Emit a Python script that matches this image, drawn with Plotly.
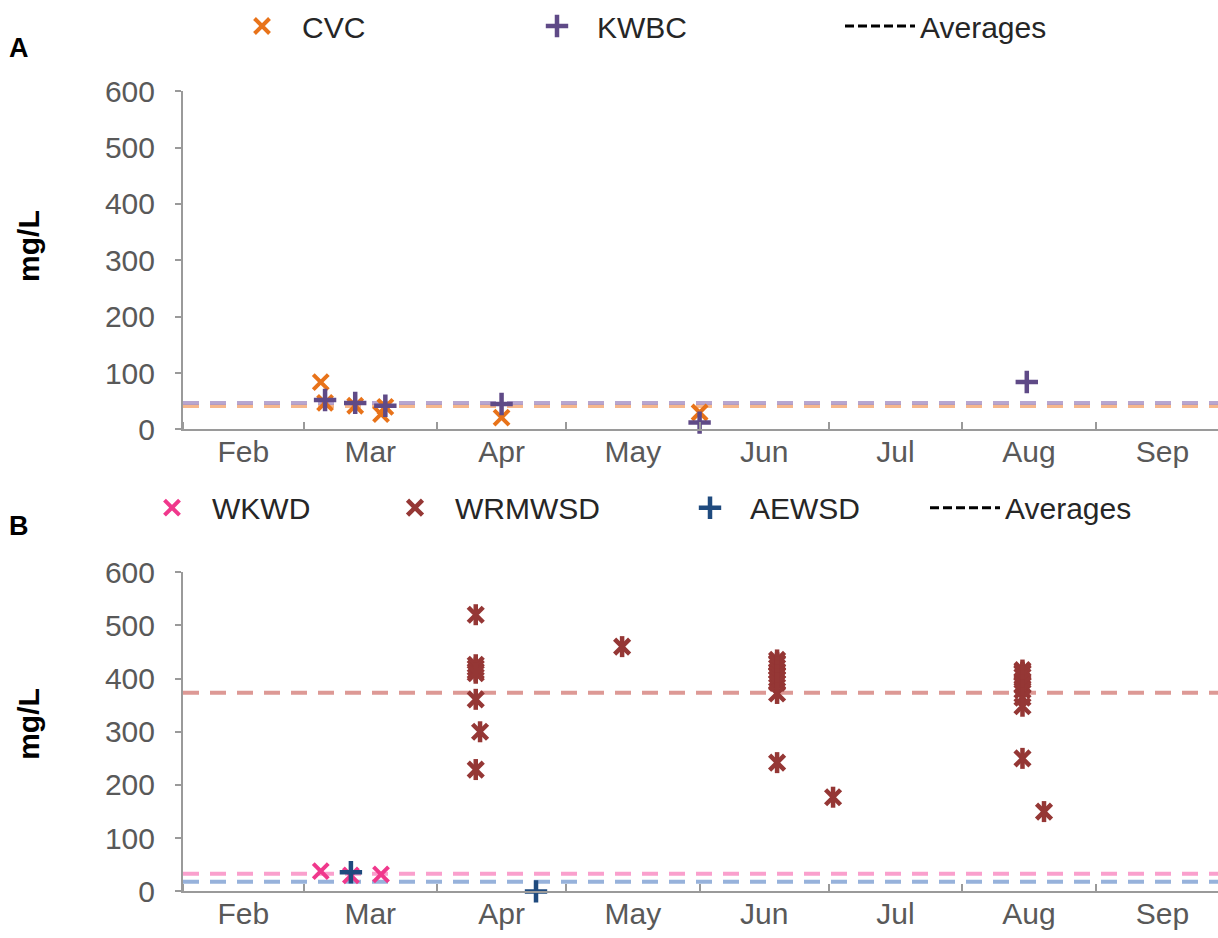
import plotly.graph_objects as go

# ---- Panel A: CVC and KWBC samples (mg/L) ----
cvc_dates = ["2015-03-05", "2015-03-06", "2015-03-13", "2015-03-19", "2015-03-20",
             "2015-04-16", "2015-06-01"]
cvc_vals = [84, 47, 42, 27, 40, 21, 30]

kwbc_dates = ["2015-03-06", "2015-03-13", "2015-03-20", "2015-04-16", "2015-06-01",
              "2015-08-16"]
kwbc_vals = [52, 47, 42, 45, 12, 84]

# ---- Panel B: WKWD, WRMWSD and AEWSD samples (mg/L) ----
wkwd_dates = ["2015-03-05", "2015-03-12", "2015-03-19"]
wkwd_vals = [38, 30, 32]

wrm_dates = (["2015-04-10"] * 7 + ["2015-04-11"] + ["2015-05-14"]
             + ["2015-06-19"] * 10 + ["2015-07-02"]
             + ["2015-08-15"] * 10 + ["2015-08-20"])
wrm_vals = ([520, 426, 420, 414, 410, 361, 229] + [300] + [460]
            + [435, 430, 428, 421, 414, 407, 400, 392, 372, 242] + [177]
            + [416, 412, 410, 404, 396, 388, 378, 364, 348, 250] + [150])

aewsd_dates = ["2015-03-12", "2015-04-24"]
aewsd_vals = [36, 0]

x_start, x_end = "2015-02-01", "2015-09-29 10:00"
y_ticks = [0, 100, 200, 300, 400, 500, 600]

FONT = "Liberation Sans, Arial, sans-serif"
AXIS_GREY = "#9a9a9a"
TICK_TEXT = "#595959"

W, H = 1218, 938
ML = 183                 # left margin (px); plot area spans ML..W
PW = W - ML


def mean(v):
    return sum(v) / len(v)


fig = go.Figure()


def avg_line(vals, color, xa, ya):
    m = mean(vals)
    fig.add_trace(go.Scatter(
        x=[x_start, x_end], y=[m, m], mode="lines", xaxis=xa, yaxis=ya,
        line=dict(color=color, width=4, dash="16px,11px"),
        showlegend=False, hoverinfo="skip"))


def points(dates, vals, name, symbol, color, size, width, xa, ya, legend,
           showlegend=True, group=None):
    fig.add_trace(go.Scatter(
        x=dates, y=vals, mode="markers", name=name, xaxis=xa, yaxis=ya,
        cliponaxis=False,
        marker=dict(symbol=symbol, size=size, color=color,
                    line=dict(color=color, width=width)),
        legend=legend, showlegend=showlegend, legendgroup=group or name))


def averages_key(xa, ya, legend):
    fig.add_trace(go.Scatter(
        x=[None], y=[None], mode="lines", name="Averages", xaxis=xa, yaxis=ya,
        line=dict(color="black", width=3, dash="9px,4px"), legend=legend))


# Panel A
avg_line(cvc_vals, "rgba(244,170,120,0.85)", "x", "y")
avg_line(kwbc_vals, "rgba(170,150,200,0.85)", "x", "y")
points(cvc_dates, cvc_vals, "CVC", "x-thin-open", "#E8731A", 15, 4, "x", "y", "legend")
points(kwbc_dates, kwbc_vals, "KWBC", "cross-thin-open", "#5F4A87", 16, 4.5, "x", "y", "legend2")
averages_key("x", "y", "legend3")

# Panel B
avg_line(wkwd_vals, "rgba(250,150,200,0.9)", "x2", "y2")
avg_line(aewsd_vals, "rgba(140,170,215,0.9)", "x2", "y2")
avg_line(wrm_vals, "rgba(215,135,130,0.85)", "x2", "y2")
points(wrm_dates, wrm_vals, "WRMWSD", "x-thin-open", "#953735", 15, 4.5, "x2", "y2", "legend5")
points(wrm_dates, wrm_vals, "WRMWSD", "line-ns-open", "#953735", 15, 4.5, "x2", "y2", "legend5",
       showlegend=False, group="WRMWSD")
points(wkwd_dates, wkwd_vals, "WKWD", "x-thin-open", "#F0388C", 15, 4, "x2", "y2", "legend4")
points(aewsd_dates, aewsd_vals, "AEWSD", "cross-thin-open", "#1F4A7E", 16, 4.5, "x2", "y2", "legend6")
averages_key("x2", "y2", "legend7")

xaxis_common = dict(
    type="date", range=[x_start, x_end], tick0="2015-02-01", dtick="M1",
    tickformat="%b", ticklabelmode="period", showline=True, linecolor=AXIS_GREY,
    linewidth=2, ticks="inside", ticklen=7, tickwidth=1.5, tickcolor=AXIS_GREY,
    showgrid=False, zeroline=False, automargin=False, ticklabelstandoff=-5,
    tickfont=dict(family=FONT, size=30, color=TICK_TEXT))
yaxis_common = dict(
    range=[0, 600], tickvals=y_ticks, showline=True, linecolor=AXIS_GREY,
    linewidth=2, ticks="outside", ticklen=6, tickwidth=1.5, tickcolor=AXIS_GREY,
    showgrid=False, zeroline=False, automargin=False, ticklabelstandoff=14,
    tickfont=dict(family=FONT, size=30, color=TICK_TEXT))


def px_x(px):
    return (px - ML) / PW


def px_y(px):
    return 1 - px / H


def lg(x_px, y_px, itemwidth=70):
    return dict(x=px_x(x_px), y=px_y(y_px), xanchor="left", yanchor="middle",
                orientation="h", bgcolor="rgba(0,0,0,0)", borderwidth=0,
                itemwidth=itemwidth, font=dict(family=FONT, size=30, color="#262626"))


def label(text, x_px, y_px, size, angle=0):
    return dict(text=text, x=px_x(x_px), y=px_y(y_px), xref="paper", yref="paper",
                xanchor="center", yanchor="middle", showarrow=False, textangle=angle,
                font=dict(family=FONT, size=size, color="black"))


fig.update_layout(
    template="none", width=W, height=H,
    margin=dict(l=ML, r=0, t=0, b=0, pad=0),
    paper_bgcolor="white", plot_bgcolor="white",
    xaxis=dict(xaxis_common, domain=[0, 1], anchor="y"),
    yaxis=dict(yaxis_common, domain=[px_y(425), px_y(84)], anchor="x"),
    xaxis2=dict(xaxis_common, domain=[0, 1], anchor="y2"),
    yaxis2=dict(yaxis_common, domain=[px_y(891), px_y(569)], anchor="x2"),
    legend=lg(222, 18), legend2=lg(517, 18), legend3=lg(840, 18),
    legend4=lg(132, 504), legend5=lg(375, 504), legend6=lg(670, 504),
    legend7=lg(925, 504),
    showlegend=True,
    annotations=[
        label("<b>A</b>", 19, 40, 27),
        label("<b>B</b>", 19, 522, 27),
        label("<b>mg/L</b>", 29, 240, 30, -90),
        label("<b>mg/L</b>", 29, 722, 30, -90),
    ],
)

fig.write_html("out.html")
